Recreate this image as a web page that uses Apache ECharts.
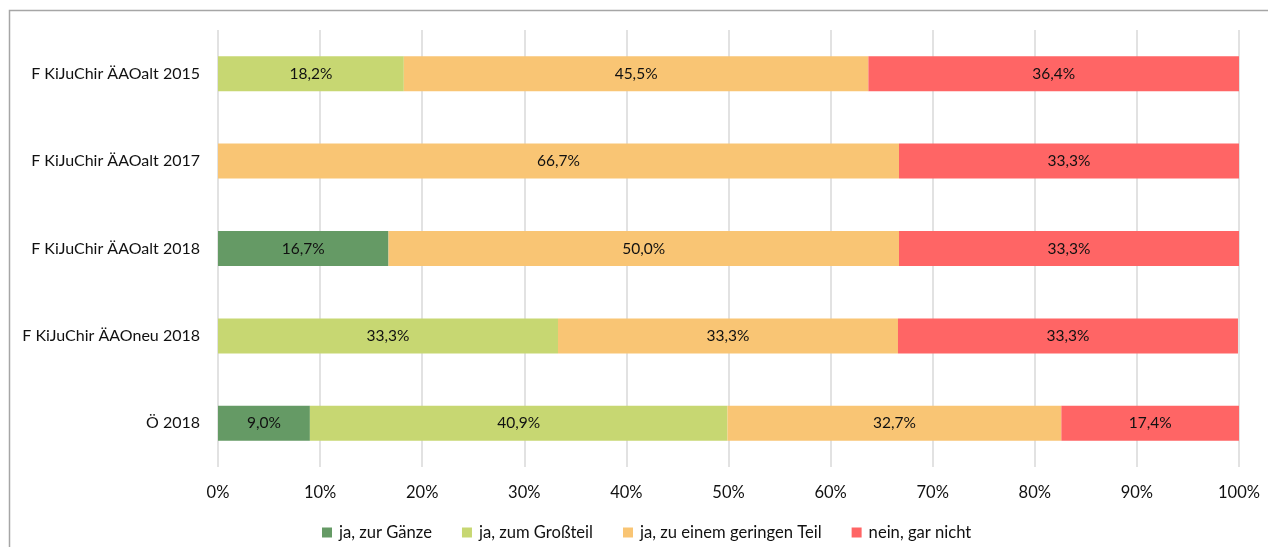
<!DOCTYPE html>
<html>
<head>
<meta charset="utf-8">
<script src="https://cdn.jsdelivr.net/npm/echarts@6/dist/echarts.min.js"></script>
<style>
  html, body { margin: 0; padding: 0; background: #fff; }
  #chart { width: 1268px; height: 547px; }
</style>
</head>
<body>
<div id="chart"></div>
<script>
// Categories, top to bottom
const categories = [
  'F KiJuChir ÄAOalt 2015',
  'F KiJuChir ÄAOalt 2017',
  'F KiJuChir ÄAOalt 2018',
  'F KiJuChir ÄAOneu 2018',
  'Ö 2018'
];
const seriesNames = ['ja, zur Gänze', 'ja, zum Großteil', 'ja, zu einem geringen Teil', 'nein, gar nicht'];
// Shares in percent per category
const zurGaenze    = [0,    0,    16.7, 0,    9.0];
const zumGrossteil = [18.2, 0,    0,    33.3, 40.9];
const geringerTeil = [45.5, 66.7, 50.0, 33.3, 32.7];
const garNicht     = [36.4, 33.3, 33.3, 33.3, 17.4];
const colors = ['#659a65', '#c7d772', '#f9c574', '#ff6565'];

const font = 'Lato, "Open Sans", sans-serif';
const values = [zurGaenze, zumGrossteil, geringerTeil, garNicht];

const chart = echarts.init(document.getElementById('chart'), null, { renderer: 'canvas' });
chart.setOption({
  animation: false,
  backgroundColor: '#fff',
  graphic: [{
    type: 'rect',
    shape: { x: 9.5, y: 10.5, width: 1400, height: 700 },
    style: { fill: 'none', stroke: '#a6a6a6', lineWidth: 1.5 },
    silent: true
  }],
  grid: { left: 218, right: 29, top: 30, bottom: 80, containLabel: false },
  legend: {
    top: 519,
    left: 317,
    itemWidth: 10,
    itemHeight: 10,
    itemGap: 30,
    icon: 'rect',
    textStyle: { fontFamily: font, fontSize: 16.6, color: '#111', padding: [0, 0, 0, 2] },
    data: seriesNames
  },
  xAxis: {
    type: 'value',
    min: 0,
    max: 100,
    interval: 10,
    axisLine: { show: false },
    axisTick: { show: false },
    axisLabel: {
      formatter: v => v + '%',
      fontFamily: font, fontSize: 16.5, color: '#111', margin: 17
    },
    splitLine: { lineStyle: { color: '#d9d9d9', width: 1.5 } }
  },
  yAxis: {
    type: 'category',
    inverse: true,
    data: categories,
    axisLine: { show: false },
    axisTick: { show: false },
    axisLabel: { fontFamily: font, fontSize: 16, color: '#111', margin: 18 },
    splitLine: { show: false }
  },
  series: seriesNames.map((name, i) => ({
    name,
    type: 'bar',
    stack: 'total',
    barWidth: 35,
    itemStyle: { color: colors[i] },
    label: {
      show: true,
      position: 'inside',
      fontFamily: font,
      fontSize: 15.5,
      color: '#111',
      formatter: p => p.value ? p.value.toFixed(1).replace('.', ',') + '%' : ''
    },
    data: values[i]
  }))
});
</script>
</body>
</html>
